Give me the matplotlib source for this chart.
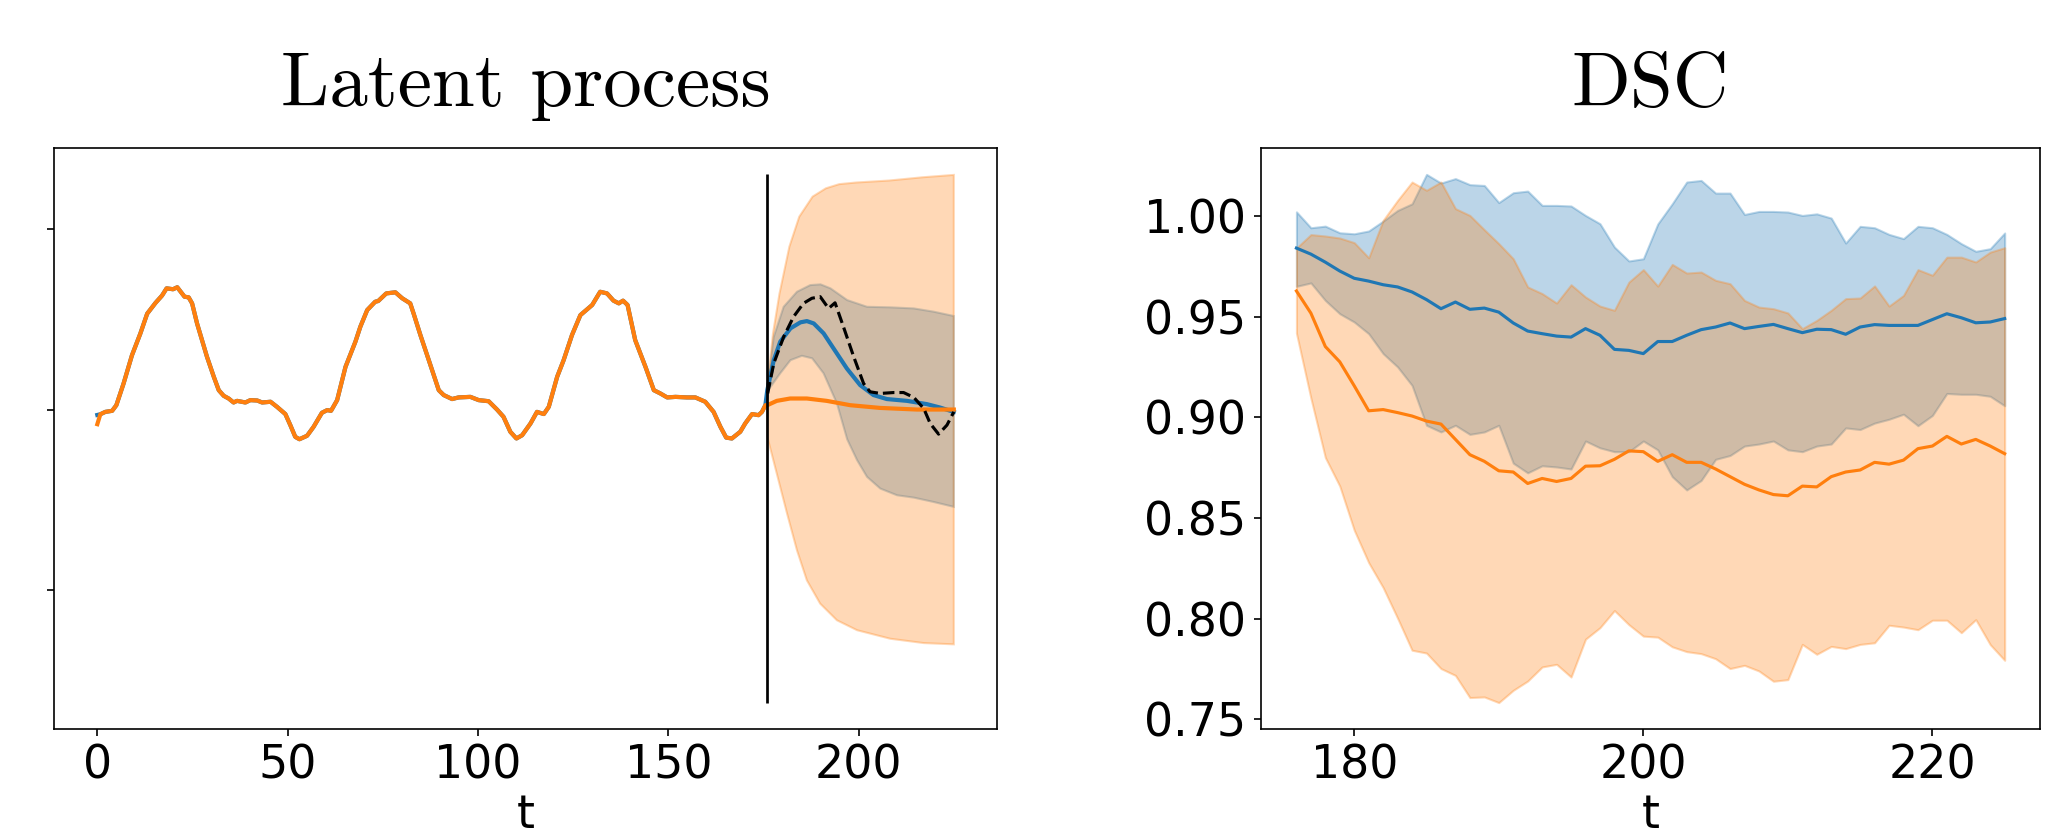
import numpy as np
import matplotlib
matplotlib.use('Agg')
import matplotlib.pyplot as plt

hist_t = [0, 0.8, 2.1, 3.9, 5.0, 6.9, 9.1, 11.3, 13.1, 15.3, 17.0, 18.2, 19.9, 21.0,
          22.9, 24.0, 24.9, 26.2, 28.8, 30.6, 31.9, 33.2, 34.5, 35.8, 36.7, 38.9,
          40.2, 42.0, 43.3, 45.5, 47.2, 49.4, 50.7, 52.0, 53.1, 55.1, 56.8, 59.0,
          60.4, 61.4, 63.0, 65.2, 67.8, 69.1, 70.9, 73.0, 73.8, 75.9, 78.3, 80.1,
          82.2, 83.1, 84.9, 87.0, 89.7, 91.0, 93.2, 94.9, 98.0, 100.2, 102.8, 105.0,
          106.7, 108.5, 110.1, 111.6, 113.8, 115.5, 117.3, 118.6, 120.8, 122.5,
          124.7, 126.9, 130.0, 132.1, 133.9, 135.6, 137.0, 138.1, 139.3, 141.3,
          144.0, 146.2, 147.9, 149.7, 151.9, 154.9, 157.1, 159.7, 161.9, 163.7,
          165.2, 166.7, 168.9, 170.2, 172.0, 173.7, 174.6, 175.5]
hist_y = [-0.081, -0.026, -0.013, -0.007, 0.024, 0.144, 0.30, 0.42, 0.53, 0.59, 0.63,
          0.67, 0.665, 0.676, 0.624, 0.62, 0.587, 0.476, 0.292, 0.181, 0.107, 0.076,
          0.061, 0.039, 0.048, 0.039, 0.052, 0.05, 0.039, 0.043, 0.015, -0.025,
          -0.086, -0.151, -0.164, -0.145, -0.096, -0.018, -0.003, -0.007, 0.052,
          0.236, 0.375, 0.458, 0.55, 0.596, 0.60, 0.642, 0.648, 0.615, 0.587, 0.53,
          0.41, 0.278, 0.107, 0.08, 0.058, 0.067, 0.07, 0.052, 0.046, 0.0, -0.04,
          -0.123, -0.16, -0.142, -0.077, -0.013, -0.025, 0.015, 0.181, 0.273, 0.412,
          0.522, 0.578, 0.651, 0.642, 0.602, 0.587, 0.602, 0.578, 0.384, 0.236,
          0.107, 0.089, 0.067, 0.07, 0.067, 0.067, 0.043, -0.013, -0.096, -0.155,
          -0.16, -0.123, -0.077, -0.025, -0.031, -0.013, 0.024]
blue_first = -0.03

# forecasts
t_split = 176
vline_lo, vline_hi = -1.62, 1.30

truth_t = [176.1, 177.7, 180.3, 182.9, 185.5, 187.7, 189.9, 192.1, 193.8, 196.0, 198.7,
           201.3, 203.0, 205.7, 209.2, 211.8, 214.5, 217.1, 218.8, 221.0, 223.2, 225.0]
truth_y = [0.089, 0.255, 0.402, 0.513, 0.587, 0.615, 0.624, 0.559, 0.590, 0.458, 0.292,
           0.144, 0.098, 0.089, 0.094, 0.094, 0.067, 0.006, -0.077, -0.136, -0.086, -0.013]

blue_t = [176.0, 177.7, 179.4, 182.1, 184.7, 186.4, 188.2, 190.8, 193.4, 196.9, 200.4,
          203.9, 207.4, 212.7, 217.9, 221.4, 225.0]
blue_y = [0.107, 0.273, 0.375, 0.449, 0.482, 0.489, 0.476, 0.421, 0.338, 0.227, 0.135,
          0.080, 0.058, 0.048, 0.030, 0.011, -0.013]
blue_up_t = [176.0, 177.7, 180.3, 183.8, 187.3, 190.0, 192.6, 197.0, 202.2, 208.3, 214.5, 219.7, 225.0]
blue_up_y = [0.115, 0.402, 0.568, 0.651, 0.688, 0.692, 0.670, 0.605, 0.568, 0.565, 0.559, 0.541, 0.517]
blue_lo_t = [176.0, 179.4, 182.1, 185.1, 187.8, 190.8, 194.3, 197.0, 199.6, 202.2, 205.7,
             210.1, 214.5, 219.7, 225.0]
blue_lo_y = [0.10, 0.20, 0.273, 0.297, 0.283, 0.20, 0.034, -0.165, -0.28, -0.372, -0.437,
             -0.474, -0.487, -0.511, -0.538]

orange_t = [176.0, 178.5, 182.0, 186.4, 191.6, 197.8, 205.6, 215.3, 225.0]
orange_y = [0.024, 0.048, 0.061, 0.061, 0.048, 0.024, 0.009, 0.0, 0.0]
orange_up_t = [176.0, 177.5, 179.2, 181.8, 184.4, 187.9, 191.4, 194.9, 199.3, 208.0, 216.8, 225.0]
orange_up_y = [0.12, 0.42, 0.64, 0.90, 1.066, 1.177, 1.223, 1.246, 1.255, 1.266, 1.284, 1.297]
orange_lo_t = [176.0, 178.5, 181.2, 183.8, 186.4, 189.9, 194.3, 199.6, 208.3, 217.1, 225.0]
orange_lo_y = [-0.15, -0.354, -0.575, -0.778, -0.944, -1.073, -1.165, -1.22, -1.267, -1.291, -1.298]

# ---- DSC per forecast step
dsc_t = np.arange(176, 226)
dsc_blue = [0.984, 0.981, 0.977, 0.9726, 0.969, 0.9676, 0.9658, 0.9647, 0.9622, 0.9584,
            0.9539, 0.9572, 0.9536, 0.9542, 0.9522, 0.9468, 0.9428, 0.9415, 0.9403, 0.9398,
            0.944, 0.9407, 0.9337, 0.9332, 0.9316, 0.9376, 0.9376, 0.9407, 0.9435, 0.9448,
            0.9468, 0.944, 0.9451, 0.9461, 0.944, 0.942, 0.9437, 0.9435, 0.9412, 0.9448,
            0.946, 0.9456, 0.9456, 0.9456, 0.9485, 0.9514, 0.9494, 0.9469, 0.9473, 0.949]
dsc_blue_up = [1.002, 0.9941, 0.9949, 0.9916, 0.9911, 0.9925, 0.9974, 1.0027, 1.006, 1.0206,
               1.0163, 1.0185, 1.0155, 1.0151, 1.0066, 1.0115, 1.0123, 1.0052, 1.0052, 1.0049,
               1.0002, 0.9961, 0.9845, 0.9776, 0.9787, 0.996, 1.006, 1.0168, 1.0176, 1.0113,
               1.0113, 1.0007, 1.0022, 1.0022, 1.0019, 1.0002, 1.001, 0.9989, 0.9865, 0.9948,
               0.9941, 0.9908, 0.9887, 0.9948, 0.9941, 0.9908, 0.9862, 0.9824, 0.9837, 0.9915]
dsc_blue_lo = [0.965, 0.9667, 0.958, 0.9514, 0.9473, 0.9415, 0.9316, 0.925, 0.9158, 0.896,
               0.8927, 0.896, 0.8915, 0.8927, 0.896, 0.8772, 0.8724, 0.8759, 0.8753, 0.8743,
               0.8882, 0.8848, 0.8829, 0.8829, 0.8882, 0.8838, 0.8705, 0.8639, 0.8686, 0.8791,
               0.881, 0.8857, 0.8867, 0.8882, 0.8838, 0.8829, 0.8857, 0.8867, 0.8947, 0.8939,
               0.8971, 0.899, 0.9015, 0.8958, 0.9009, 0.9118, 0.9114, 0.9114, 0.9104, 0.9057]
dsc_orange = [0.9627, 0.9517, 0.9351, 0.9275, 0.9156, 0.9032, 0.9038, 0.9023, 0.9006, 0.8981,
              0.8966, 0.889, 0.8814, 0.8781, 0.8734, 0.8728, 0.8671, 0.8696, 0.8681, 0.8696,
              0.8757, 0.8759, 0.8791, 0.8833, 0.8829, 0.8781, 0.8814, 0.8776, 0.8776, 0.8743,
              0.8705, 0.8667, 0.8639, 0.8616, 0.861, 0.8658, 0.8654, 0.8705, 0.8728, 0.8738,
              0.8776, 0.8767, 0.8787, 0.8844, 0.8857, 0.8905, 0.8867, 0.889, 0.8857, 0.8819]
dsc_orange_up = [0.984, 0.9907, 0.99, 0.989, 0.9867, 0.9792, 0.9978, 1.0077, 1.0168, 1.0127,
                 1.0168, 1.0036, 1.0002, 0.9931, 0.9862, 0.9787, 0.9647, 0.9614, 0.9567, 0.9658,
                 0.9597, 0.9552, 0.9531, 0.9671, 0.9733, 0.9651, 0.9759, 0.9716, 0.9721, 0.968,
                 0.9663, 0.958, 0.9547, 0.9539, 0.9518, 0.944, 0.9481, 0.9531, 0.9589, 0.9592,
                 0.9652, 0.9552, 0.9605, 0.9733, 0.9705, 0.9795, 0.9795, 0.9771, 0.982, 0.9842]
dsc_orange_lo = [0.9418, 0.9095, 0.88, 0.8658, 0.8439, 0.8278, 0.8154, 0.8002, 0.7843, 0.7829,
                 0.7752, 0.7718, 0.7608, 0.7611, 0.7583, 0.7644, 0.769, 0.776, 0.7773, 0.771,
                 0.7898, 0.7955, 0.804, 0.797, 0.7913, 0.7908, 0.786, 0.7836, 0.7826, 0.7801,
                 0.7752, 0.7768, 0.774, 0.7689, 0.7697, 0.7872, 0.7823, 0.7862, 0.7851, 0.7872,
                 0.788, 0.7967, 0.7958, 0.7945, 0.7992, 0.7992, 0.793, 0.7995, 0.7871, 0.7793]

FS = 22
fig = plt.figure(figsize=(2072 / 150, 836 / 150), dpi=150)
ax1 = fig.add_axes([0.0263, 0.128, 0.4547, 0.695])
ax2 = fig.add_axes([0.6086, 0.128, 0.376, 0.695])

# left: latent process
ax1.fill(blue_up_t + blue_lo_t[::-1], blue_up_y + blue_lo_y[::-1],
         color='tab:blue', alpha=0.3, lw=1)
ax1.fill(orange_up_t + orange_lo_t[::-1], orange_up_y + orange_lo_y[::-1],
         color='tab:orange', alpha=0.3, lw=1)
ax1.plot(hist_t + blue_t, [blue_first] + hist_y[1:] + blue_y, color='tab:blue', lw=2, zorder=3)
ax1.plot(hist_t + orange_t, hist_y + orange_y, color='tab:orange', lw=2, zorder=4)
ax1.plot(truth_t, truth_y, 'k--', lw=1.5, zorder=5)
ax1.vlines(t_split, vline_lo, vline_hi, color='k', lw=1.3, zorder=6)
ax1.set_xticks([0, 50, 100, 150, 200])
ax1.set_yticks([-1, 0, 1])
ax1.set_yticklabels([])
ax1.set_xlabel('t', fontsize=FS, labelpad=2)
ax1.tick_params(labelsize=FS)
ax1.set_title('Latent process', fontfamily='cmr10', fontsize=37, pad=20)

# right: DSC
ax2.fill_between(dsc_t, dsc_blue_lo, dsc_blue_up, color='tab:blue', alpha=0.3)
ax2.fill_between(dsc_t, dsc_orange_lo, dsc_orange_up, color='tab:orange', alpha=0.3)
ax2.plot(dsc_t, dsc_blue, color='tab:blue', lw=1.5, zorder=3)
ax2.plot(dsc_t, dsc_orange, color='tab:orange', lw=1.5, zorder=3)
ax2.set_xticks([180, 200, 220])
ax2.set_yticks([0.75, 0.80, 0.85, 0.90, 0.95, 1.00])
ax2.set_xlabel('t', fontsize=FS, labelpad=2)
ax2.tick_params(labelsize=FS)
ax2.set_title('DSC', fontfamily='cmr10', fontsize=37, pad=20)

fig.savefig('out.png', dpi=150)
